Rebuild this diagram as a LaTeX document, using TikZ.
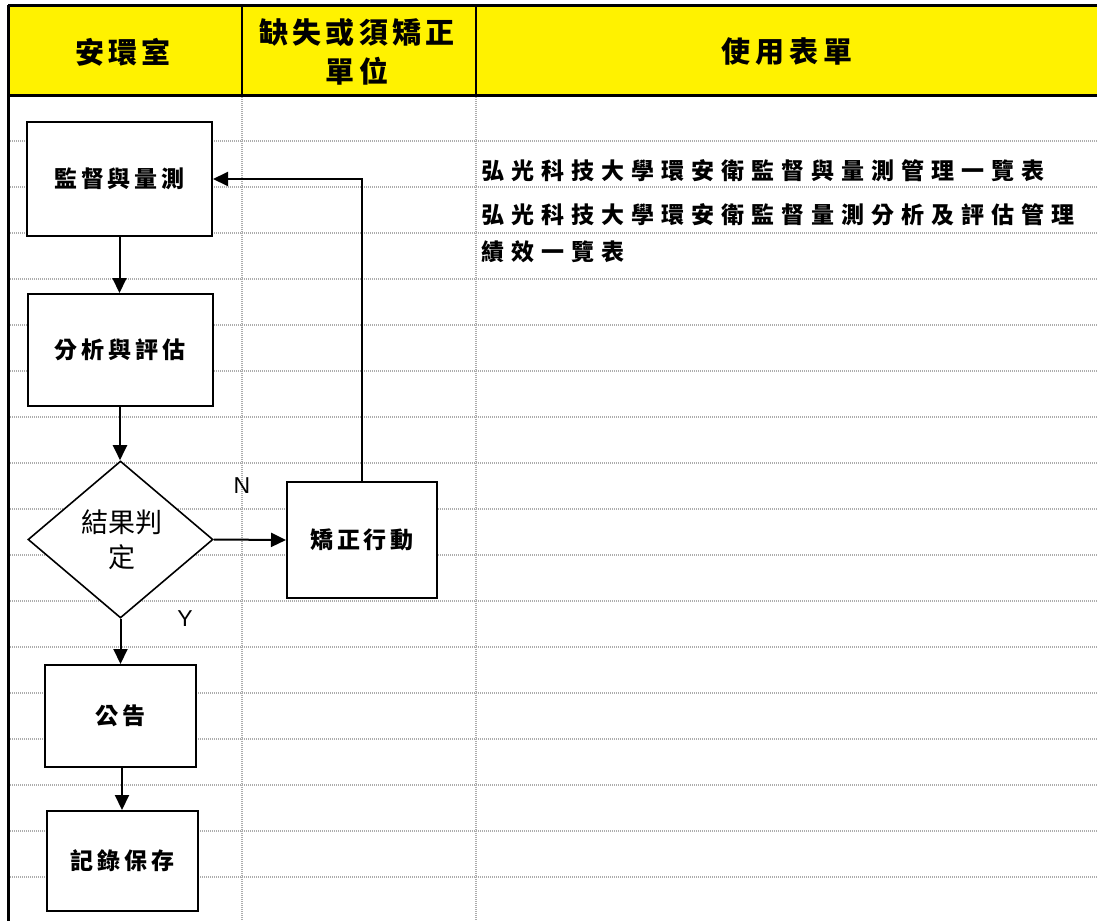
\documentclass[tikz,border=0pt]{standalone}
\usepackage{fontspec}
\newfontfamily\cjk{Noto Sans CJK TC}
\newfontfamily\latn{Liberation Sans}
\usetikzlibrary{arrows.meta,shapes.geometric}
\newdimen\lsgap
\def\lsp#1#2{\lsgap=#1\relax\lspA#2\relax}
\def\lspA#1{#1\lspB}
\def\lspB#1{\ifx#1\relax\else\kern\lsgap #1\expandafter\lspB\fi}
\begin{document}
\begin{tikzpicture}[x=1pt,y=-1pt,
  grid/.style={gray!65, line width=1.3pt, dash pattern=on 1pt off 1pt},
  box/.style={draw, line width=2pt, fill=white, inner sep=0pt},
  arr/.style={line width=2pt, -{Triangle[length=15pt,width=14pt]}},
  hdr/.style={font=\cjk\bfseries\fontsize{29pt}{39pt}\selectfont, align=center, inner sep=0pt},
  btxt/.style={font=\cjk\bfseries\fontsize{23pt}{27pt}\selectfont, inner sep=0pt},
  ftxt/.style={font=\cjk\bfseries\fontsize{23pt}{27pt}\selectfont, inner sep=0pt},
  lbl/.style={font=\latn\fontsize{23pt}{27pt}\selectfont, inner sep=0pt}
]
\useasboundingbox (0,0) rectangle (1097,921);
\fill[white] (0,0) rectangle (1097,921);
% header
\fill[yellow] (8,5) rectangle (1097,95);
% grid
\foreach \y in {141,187,...,877} \draw[grid] (8,\y) -- (1097,\y);
\draw[grid] (242,95) -- (242,921);
\draw[grid] (476,95) -- (476,921);
\draw[line width=2pt] (242,5) -- (242,95) (476,5) -- (476,95);
\draw[line width=3pt] (8,5) -- (1097,5) (8,95) -- (1097,95) (8,5) -- (8,921);
\node[hdr] (h1) at (123,52) {\lsp{4.5pt}{安環室}};
\node[hdr] (h2) at (357,52) {\lsp{4.2pt}{缺失或須矯正}\\\lsp{4.2pt}{單位}};
\node[hdr] (h3) at (787,52) {\lsp{4.8pt}{使用表單}};
% forms column
\node[ftxt, anchor=west] (f1) at (481,171) {\lsp{7pt}{弘光科技大學環安衛監督與量測管理一覽表}};
\node[ftxt, anchor=west] (f2) at (481,215) {\lsp{7pt}{弘光科技大學環安衛監督量測分析及評估管理}};
\node[ftxt, anchor=west] (f3) at (481,252) {\lsp{7pt}{績效一覽表}};
% flow nodes
\node[box, minimum width=185pt, minimum height=114pt] (mon) at (119.5,179) {};
\node[btxt] at (mon) {\lsp{3.8pt}{監督與量測}};
\node[box, minimum width=185pt, minimum height=112pt] (ana) at (120,350) {};
\node[btxt] at (ana) {\lsp{3.8pt}{分析與評估}};
\node[draw, diamond, line width=1.6pt, fill=white, inner sep=0pt,
      shape aspect=1.18, minimum width=185pt, minimum height=157pt] (dec) at (120.5,539.5) {};
\node[font=\cjk\fontsize{27pt}{35pt}\selectfont, align=center, inner sep=0pt] at (122,540) {結果判\\定};
\node[box, minimum width=150pt, minimum height=116pt] (cor) at (362,540) {};
\node[btxt] at (cor) {\lsp{3.8pt}{矯正行動}};
\node[box, minimum width=151pt, minimum height=102pt] (pub) at (120.5,716) {};
\node[btxt] at (pub) {\lsp{3.8pt}{公告}};
\node[box, minimum width=151pt, minimum height=100pt] (rec) at (122.5,861) {};
\node[btxt] at (rec) {\lsp{3.8pt}{記錄保存}};
% connectors
\draw[arr] (mon.south) -- (mon.south |- ana.north);
\draw[arr] (ana.south) -- (ana.south |- dec.north);
\draw[arr] (dec.east) -- (cor.west);
\draw[arr] (dec.south) -- (dec.south |- pub.north);
\draw[arr] ([xshift=1.5pt]pub.south) -- ([xshift=-0.5pt]rec.north);
\draw[arr] (cor.north) |- (mon.east);
\node[lbl] (ln) at (242,486) {N};
\node[lbl] (ly) at (185,619) {Y};
\end{tikzpicture}
\end{document}
